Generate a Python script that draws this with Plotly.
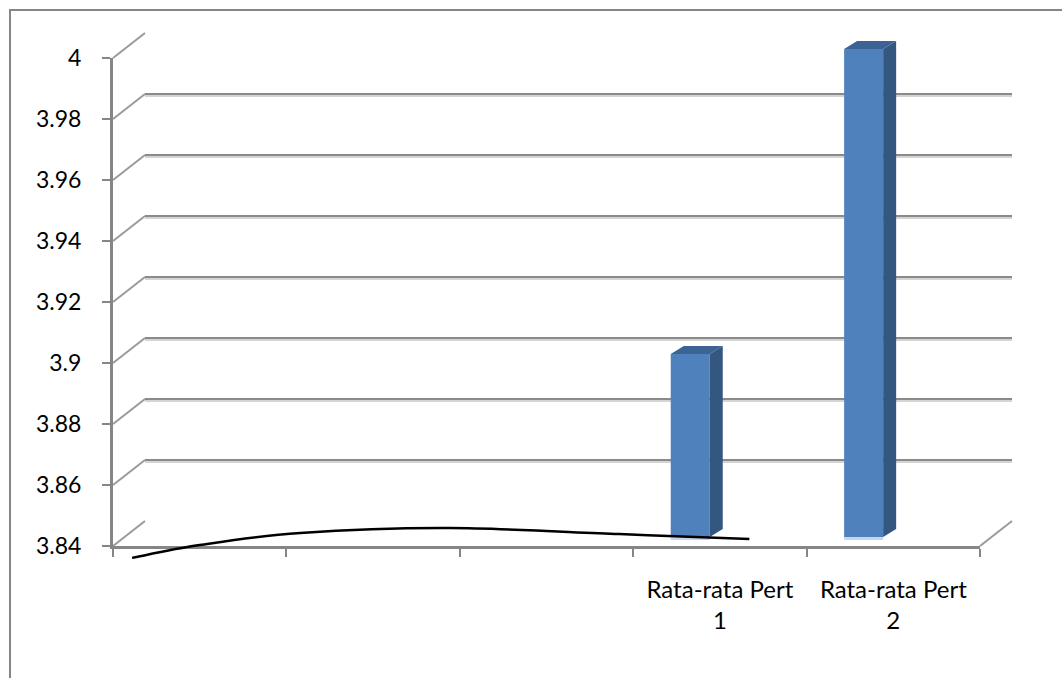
import plotly.graph_objects as go

# ---- data ----
categories = ["", "", "", "Rata-rata Pert<br>1", "Rata-rata Pert<br>2"]
cat_pos = [0, 1, 2, 3, 4]
bar_pos = [3, 4]
bar_values = [3.9, 4.0]
y_ticks = [3.84, 3.86, 3.88, 3.90, 3.92, 3.94, 3.96, 3.98, 4.00]
y_ticktext = ["3.84", "3.86", "3.88", "3.9", "3.92", "3.94", "3.96", "3.98", "4"]

# freehand stroke along the floor, in (category, value) units of the front plane
stroke_x = [-0.39, 0.00, 0.58, 1.44, 2.42, 3.17]
stroke_y = [3.8361, 3.8403, 3.8443, 3.8459, 3.8439, 3.8423]

# ---- geometry ----
W, H = 1062, 678
Y_MIN, Y_MAX = 3.84, 4.0
FRONT_L, FRONT_R, FRONT_T, FRONT_B = 113, 980, 58, 546
DEPTH_DX, DEPTH_DY = 32, 25          # offset of the back wall
BAR_PLANE = 0.36                     # depth of the bar front faces
BAR_DX, BAR_DY = 13, 8               # bar depth
BAR_OFFSET, BAR_WIDTH = -0.35, 0.225
X_MIN, X_MAX = -0.5, 4.5

PPU = (FRONT_B - FRONT_T) / (Y_MAX - Y_MIN)      # pixels per value unit
PPC = (FRONT_R - FRONT_L) / (X_MAX - X_MIN)      # pixels per category

AXIS_GRAY = "#868686"
GRID_GRAY = "#8a8a8a"
FONT = "Lato"


def px(x):
    return x / W


def py(y):
    return 1 - y / H


def front_x(c):
    return FRONT_L + (c - X_MIN) * PPC


def front_y(v):
    return FRONT_B - (v - Y_MIN) * PPU


fig = go.Figure()

# bar plane axes (range padded so the 3D faces are not clipped)
pad_lo, pad_hi = 0.005, 0.012
bx0 = FRONT_L + BAR_PLANE * DEPTH_DX
by_top = FRONT_T - BAR_PLANE * DEPTH_DY - pad_hi * PPU
by_bot = FRONT_B - BAR_PLANE * DEPTH_DY + pad_lo * PPU

# invisible traces so every set of axes is drawn
# x/y: front plane, x2/y2: gridline shadows, x3/y3: back wall gridlines
for xa, ya in [("x", "y"), ("x2", "y2"), ("x3", "y3")]:
    fig.add_trace(go.Scatter(x=cat_pos, y=[None] * 5, xaxis=xa, yaxis=ya,
                             showlegend=False, hoverinfo="skip"))

# columns sit on their own plane (x4/y4), drawn over the walls
fig.add_trace(go.Bar(
    x=bar_pos, y=[v - Y_MIN for v in bar_values], base=Y_MIN,
    offset=BAR_OFFSET, width=BAR_WIDTH,
    marker=dict(color="#4f81bd", line=dict(width=0)),
    xaxis="x4", yaxis="y4", showlegend=False, hoverinfo="skip",
))

shapes = []

# outer frame
shapes.append(dict(type="rect", xref="paper", yref="paper",
                   x0=px(10), x1=px(W + 10), y0=py(H + 10), y1=py(10),
                   line=dict(color=AXIS_GRAY, width=2), layer="below"))

# left wall connectors from the front axis ticks to the back gridlines
for v in y_ticks:
    yf = front_y(v)
    shapes.append(dict(type="line", xref="paper", yref="paper",
                       x0=px(FRONT_L), y0=py(yf),
                       x1=px(FRONT_L + DEPTH_DX), y1=py(yf - DEPTH_DY),
                       line=dict(color="#9a9a9a", width=2), layer="below"))

# floor right edge
shapes.append(dict(type="line", xref="paper", yref="paper",
                   x0=px(FRONT_R), y0=py(FRONT_B),
                   x1=px(FRONT_R + DEPTH_DX), y1=py(FRONT_B - DEPTH_DY),
                   line=dict(color="#9a9a9a", width=2), layer="below"))

# 3D faces of the bars
for c, v in zip(bar_pos, bar_values):
    left = c + BAR_OFFSET
    right = left + BAR_WIDTH
    ddx = BAR_DX / PPC
    ddy = BAR_DY / PPU
    side = (f"M {right},{Y_MIN} L {right + ddx},{Y_MIN + ddy} "
            f"L {right + ddx},{v + ddy} L {right},{v} Z")
    top = (f"M {left},{v} L {right},{v} L {right + ddx},{v + ddy} "
           f"L {left + ddx},{v + ddy} Z")
    shapes.append(dict(type="path", xref="x4", yref="y4", path=side,
                       fillcolor="#34577f", line=dict(width=0), layer="above"))
    shapes.append(dict(type="path", xref="x4", yref="y4", path=top,
                       fillcolor="#3c6394", line=dict(width=0), layer="above"))
    # pale reflection under the front face
    shapes.append(dict(type="rect", xref="x4", yref="y4",
                       x0=left, x1=right, y0=Y_MIN - 3 / PPU, y1=Y_MIN,
                       fillcolor="#c6d6eb", line=dict(width=0), layer="above"))

# freehand stroke, smoothed with Catmull-Rom segments
pts = [(px(front_x(cx)), py(front_y(cy))) for cx, cy in zip(stroke_x, stroke_y)]
path = f"M {pts[0][0]},{pts[0][1]}"
for i in range(len(pts) - 1):
    p0 = pts[i - 1] if i > 0 else pts[i]
    p1, p2 = pts[i], pts[i + 1]
    p3 = pts[i + 2] if i + 2 < len(pts) else pts[i + 1]
    c1 = (p1[0] + (p2[0] - p0[0]) / 6, p1[1] + (p2[1] - p0[1]) / 6)
    c2 = (p2[0] - (p3[0] - p1[0]) / 6, p2[1] - (p3[1] - p1[1]) / 6)
    path += f" C {c1[0]},{c1[1]} {c2[0]},{c2[1]} {p2[0]},{p2[1]}"
shapes.append(dict(type="path", xref="paper", yref="paper", path=path,
                   line=dict(color="black", width=2.5), layer="above"))

back_grid = dict(
    range=[Y_MIN, Y_MAX], tickmode="array", tickvals=y_ticks,
    showticklabels=False, ticks="", showline=False, zeroline=False,
    showgrid=True, fixedrange=True, automargin=False,
)
back_x = dict(
    domain=[px(FRONT_L + DEPTH_DX), px(FRONT_R + DEPTH_DX)],
    range=[X_MIN, X_MAX], visible=False, fixedrange=True, automargin=False,
)

fig.update_layout(
    width=W, height=H,
    margin=dict(l=0, r=0, t=0, b=0, pad=0, autoexpand=False),
    paper_bgcolor="white",
    plot_bgcolor="rgba(0,0,0,0)",
    font=dict(family=FONT, size=22, color="black"),
    showlegend=False,
    shapes=shapes,
    # front plane
    xaxis=dict(
        domain=[px(FRONT_L), px(FRONT_R)], range=[X_MIN, X_MAX],
        tickmode="array", tickvals=cat_pos, ticktext=categories,
        tickfont=dict(size=24),
        ticks="outside", ticklen=0, ticklabelstandoff=20,
        showline=True, linecolor=AXIS_GRAY, linewidth=3,
        showgrid=False, zeroline=False, fixedrange=True, automargin=False,
        minor=dict(tickmode="array",
                   tickvals=[c + 0.5 for c in [-1] + cat_pos],
                   ticks="outside", ticklen=8, tickwidth=2, tickcolor=AXIS_GRAY),
        anchor="y",
    ),
    yaxis=dict(
        domain=[py(FRONT_B), py(FRONT_T)], range=[Y_MIN, Y_MAX],
        tickmode="array", tickvals=y_ticks, ticktext=y_ticktext,
        tickfont=dict(size=23),
        ticks="outside", ticklen=8, tickwidth=2, tickcolor=AXIS_GRAY,
        ticklabelstandoff=16,
        showline=True, linecolor=AXIS_GRAY, linewidth=3,
        showgrid=False, zeroline=False, fixedrange=True, automargin=False,
        anchor="x",
    ),
    # back wall: light shadow under each gridline, then the gridline itself
    xaxis2=dict(anchor="y2", **back_x),
    yaxis2=dict(
        domain=[py(FRONT_B - DEPTH_DY + 2), py(FRONT_T - DEPTH_DY + 2)],
        gridcolor="#d4d4d4", gridwidth=2, anchor="x2", **back_grid,
    ),
    xaxis3=dict(anchor="y3", **back_x),
    yaxis3=dict(
        domain=[py(FRONT_B - DEPTH_DY), py(FRONT_T - DEPTH_DY)],
        gridcolor=GRID_GRAY, gridwidth=2, anchor="x3", **back_grid,
    ),
    # bar plane
    xaxis4=dict(
        domain=[px(bx0), px(bx0 + (FRONT_R - FRONT_L))],
        range=[X_MIN, X_MAX], visible=False, anchor="y4",
        fixedrange=True, automargin=False,
    ),
    yaxis4=dict(
        domain=[py(by_bot), py(by_top)],
        range=[Y_MIN - pad_lo, Y_MAX + pad_hi], visible=False,
        anchor="x4", fixedrange=True, automargin=False,
    ),
)

fig.write_html("out.html", config={"displayModeBar": False})
